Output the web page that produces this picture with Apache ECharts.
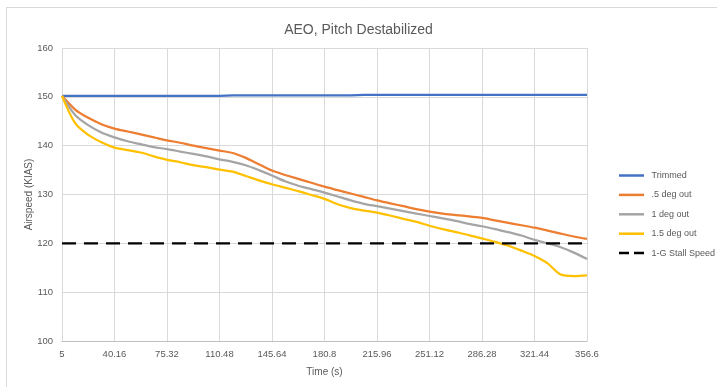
<!DOCTYPE html>
<html>
<head>
<meta charset="utf-8">
<script src="https://cdn.jsdelivr.net/npm/echarts@6/dist/echarts.min.js"></script>
<style>
html,body{margin:0;padding:0;background:#fff;}
#c{width:717px;height:387px;}
</style>
</head>
<body>
<div id="c"></div>
<script>
const timeCategories = ['5','13.79','22.58','31.37','40.16','48.95','57.74','66.53','75.32','84.11','92.9','101.69','110.48','119.27','128.06','136.85','145.64','154.43','163.22','172.01','180.8','189.59','198.38','207.17','215.96','224.75','233.54','242.33','251.12','259.91','268.7','277.49','286.28','295.07','303.86','312.65','321.44','330.23','339.02','347.81','356.6'];

const trimmed = [150.2,150.2,150.2,150.2,150.2,150.2,150.2,150.2,150.2,150.2,150.2,150.2,150.2,150.3,150.3,150.3,150.3,150.3,150.3,150.3,150.3,150.3,150.3,150.4,150.4,150.4,150.4,150.4,150.4,150.4,150.4,150.4,150.4,150.4,150.4,150.4,150.4,150.4,150.4,150.4,150.4];

const halfDeg = [150.2,147.4,145.7,144.4,143.5,142.9,142.3,141.7,141.1,140.6,140.0,139.5,139.0,138.5,137.5,136.2,134.9,134.0,133.2,132.4,131.6,130.9,130.2,129.5,128.8,128.2,127.6,127.0,126.5,126.1,125.8,125.5,125.2,124.7,124.2,123.7,123.2,122.6,122.0,121.4,120.9];

const oneDeg = [150.2,146.3,144.2,142.7,141.7,140.9,140.3,139.7,139.3,138.8,138.3,137.8,137.2,136.7,136.0,135.0,133.9,132.7,131.8,131.1,130.4,129.6,128.8,128.1,127.6,127.1,126.6,126.1,125.6,125.1,124.6,124.0,123.5,122.9,122.3,121.6,120.7,120.0,119.2,118.1,116.8];

const oneHalfDeg = [150.2,144.6,142.2,140.7,139.6,139.1,138.6,137.8,137.1,136.6,136.0,135.6,135.1,134.7,133.8,132.9,132.1,131.4,130.7,129.9,129.1,128.0,127.2,126.7,126.3,125.7,125.0,124.4,123.6,122.9,122.3,121.7,121.0,120.3,119.5,118.5,117.4,115.9,113.6,113.3,113.45];

const stallSpeed = timeCategories.map(() => 120);

const yTicks = [100, 110, 120, 130, 140, 150, 160];

const font = "'Liberation Sans','DejaVu Sans',sans-serif";
const txt = '#595959';

const solidIcon = 'path://M0,0H30V3H0Z';
const dashIcon = 'path://M0,0H12V3H0Z M18,0H30V3H18Z';

const chart = echarts.init(document.getElementById('c'), null, {renderer: 'canvas'});

function lineSeries(name, data, color, extra) {
  return Object.assign({
    name: name,
    type: 'line',
    data: data,
    symbol: 'none',
    smooth: 0.3,
    lineStyle: {color: color, width: 2.25},
    itemStyle: {color: color},
    animation: false
  }, extra || {});
}

chart.setOption({
  backgroundColor: '#fff',
  animation: false,
  title: {
    text: 'AEO, Pitch Destabilized',
    left: 'center',
    top: 18,
    textStyle: {fontFamily: font, fontSize: 14, fontWeight: 'normal', color: txt}
  },
  graphic: [
    {type: 'line', shape: {x1: 6, y1: 7.5, x2: 717, y2: 7.5}, style: {stroke: '#D9D9D9', lineWidth: 1}},
    {type: 'line', shape: {x1: 6.5, y1: 7, x2: 6.5, y2: 387}, style: {stroke: '#D9D9D9', lineWidth: 1}}
  ],
  grid: {left: 62, right: 130, top: 48, bottom: 46, containLabel: false},
  legend: {
    orient: 'vertical',
    left: 614,
    top: 166,
    itemWidth: 30,
    itemHeight: 2.5,
    itemGap: 10.4,
    textStyle: {fontFamily: font, fontSize: 9, color: txt},
    data: [
      {name: 'Trimmed', icon: solidIcon},
      {name: '.5 deg out', icon: solidIcon},
      {name: '1 deg out', icon: solidIcon},
      {name: '1.5 deg out', icon: solidIcon},
      {name: '1-G Stall Speed', icon: dashIcon}
    ]
  },
  xAxis: {
    type: 'category',
    data: timeCategories,
    boundaryGap: false,
    name: 'Time (s)',
    nameLocation: 'middle',
    nameGap: 26,
    nameTextStyle: {fontFamily: font, fontSize: 10, color: txt},
    axisLine: {lineStyle: {color: '#BFBFBF', width: 1}},
    axisTick: {show: false},
    axisLabel: {interval: 3, fontFamily: font, fontSize: 9.5, color: txt, margin: 8},
    splitLine: {show: true, interval: 3, lineStyle: {color: '#D9D9D9', width: 1}}
  },
  yAxis: {
    type: 'value',
    min: yTicks[0],
    max: yTicks[yTicks.length - 1],
    interval: 10,
    name: 'Airspeed (KIAS)',
    nameLocation: 'middle',
    nameGap: 28,
    nameMoveOverlap: false,
    nameTextStyle: {fontFamily: font, fontSize: 10, color: txt},
    axisLine: {show: false},
    axisTick: {show: false},
    axisLabel: {fontFamily: font, fontSize: 9.5, color: txt, margin: 9},
    splitLine: {lineStyle: {color: '#D9D9D9', width: 1}}
  },
  series: [
    lineSeries('Trimmed', trimmed, '#4472C4', {smooth: false}),
    lineSeries('.5 deg out', halfDeg, '#ED7D31'),
    lineSeries('1 deg out', oneDeg, '#A5A5A5'),
    lineSeries('1.5 deg out', oneHalfDeg, '#FFC000'),
    lineSeries('1-G Stall Speed', stallSpeed, '#000000', {
      smooth: false,
      lineStyle: {color: '#000000', width: 2.25, type: [14, 8]}
    })
  ]
});
</script>
</body>
</html>
